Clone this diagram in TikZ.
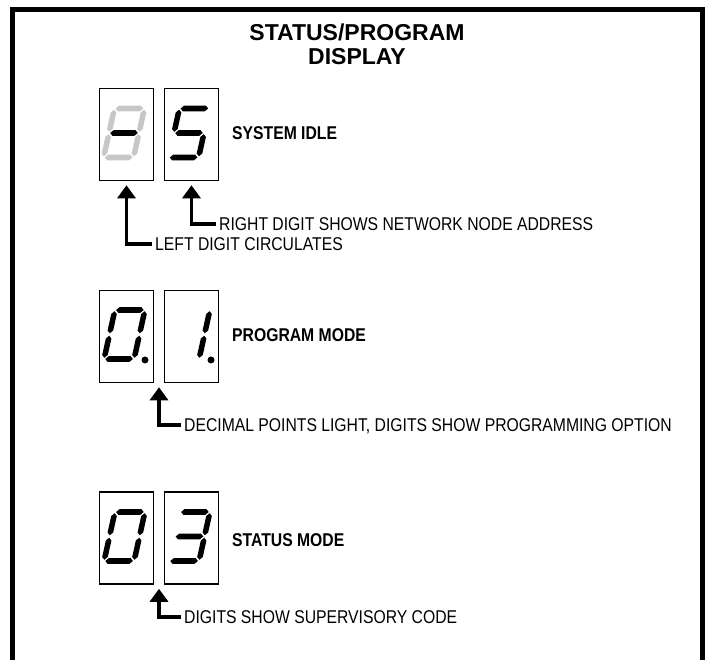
\documentclass[tikz,border=0pt]{standalone}
\usepackage{fontspec}
\setmainfont{Liberation Sans}[FakeStretch=0.85]
\newfontfamily\titlefont{Liberation Sans}
\usetikzlibrary{arrows.meta,calc}

% segment half thickness and gap
\newcommand{\sthk}{2.8}
\newcommand{\sgap}{1.2}
% horizontal segment: x1, x2, y
\newcommand{\hseg}[3]{\fill (#1+\sgap,#3) -- (#1+\sgap+\sthk,#3-\sthk) -- (#2-\sgap-\sthk,#3-\sthk) -- (#2-\sgap,#3) -- (#2-\sgap-\sthk,#3+\sthk) -- (#1+\sgap+\sthk,#3+\sthk) -- cycle;}
% vertical segment: x, y1, y2
\newcommand{\vseg}[3]{\fill (#1,#2+\sgap) -- (#1+\sthk,#2+\sgap+\sthk) -- (#1+\sthk,#3-\sgap-\sthk) -- (#1,#3-\sgap) -- (#1-\sthk,#3-\sgap-\sthk) -- (#1-\sthk,#2+\sgap+\sthk) -- cycle;}
\newcommand{\segA}{\hseg{-15}{15}{-24.5}}
\newcommand{\segB}{\vseg{15}{-24.5}{0}}
\newcommand{\segC}{\vseg{15}{0}{24.5}}
\newcommand{\segD}{\hseg{-15}{15}{24.5}}
\newcommand{\segE}{\vseg{-15}{0}{24.5}}
\newcommand{\segF}{\vseg{-15}{-24.5}{0}}
\newcommand{\segG}{\hseg{-15}{15}{0}}
% slanted digit: [colour], centre, segments
\newcommand{\digit}[3][black]{%
  \begin{scope}[shift={#2}, xslant=0.22, fill=#1]
    \foreach \s in {#3} {\csname seg\s\endcsname}
  \end{scope}}

\begin{document}
\begin{tikzpicture}[
        x=1pt, y=-1pt,
        dbox/.style = {draw, line width=1.6pt, minimum width=54pt, minimum height=92pt, inner sep=0pt}, % digit window
        pointer/.style = {line width=3.5pt, -{Triangle[width=18pt,length=13pt]}, shorten >=4pt},
        lbl/.style = {font=\fontsize{18.5}{21}\selectfont, anchor=west, inner sep=3pt, text depth=0pt},
        mode/.style = {font=\bfseries\fontsize{18.5}{21}\selectfont, anchor=west, inner sep=0pt, text depth=0pt},
    ]
    \useasboundingbox (0,0) rectangle (705,660);

    % frame
    \draw[line width=5pt] (12.5,660) -- (12.5,9.5) -- (702.5,9.5) -- (702.5,660);

    \node[font=\titlefont\bfseries\fontsize{23}{24}\selectfont, align=center] (title) at (357,44) {STATUS/PROGRAM\\DISPLAY};

    % system idle
    \node[dbox] (idleL) at (126.5,134.5) {};
    \node[dbox] (idleR) at (191.5,134.5) {};
    \digit[black!22]{(124,133)}{A,B,C,D,E,F}
    \digit{(124,133)}{G}
    \digit{(189,133)}{A,F,G,C,D}
    \node[mode] (idle) at (232,133) {SYSTEM IDLE};
    \node[lbl] (idleRtxt) at (216,224) {RIGHT DIGIT SHOWS NETWORK NODE ADDRESS};
    \node[lbl] (idleLtxt) at (152,244) {LEFT DIGIT CIRCULATES};
    \draw[pointer] (idleRtxt.west) -| (idleR.south);
    \draw[pointer] (idleLtxt.west) -| (idleL.south);

    % program mode
    \node[dbox] (progL) at (126.5,336.5) {};
    \node[dbox] (progR) at (191.5,336.5) {};
    \digit{(124.5,334.5)}{A,B,C,D,E,F}
    \digit{(189.5,334.5)}{B,C}
    \fill (145,360) circle (3.5);
    \fill (211,360) circle (3.5);
    \node[mode] (prog) at (232,335) {PROGRAM MODE};
    \node[lbl] (progtxt) at (181,425) {DECIMAL POINTS LIGHT, DIGITS SHOW PROGRAMMING OPTION};
    \coordinate (progmid) at ($(progL.south east)!0.5!(progR.south west)$);
    \draw[pointer] (progtxt.west) -| (progmid);

    % status mode
    \node[dbox] (statL) at (126.5,538) {};
    \node[dbox] (statR) at (191.5,538) {};
    \digit{(124.5,536.5)}{A,B,C,D,E,F}
    \digit{(189.5,536.5)}{A,B,G,C,D}
    \node[mode] (stat) at (232,540) {STATUS MODE};
    \node[lbl] (stattxt) at (181,617) {DIGITS SHOW SUPERVISORY CODE};
    \coordinate (statmid) at ($(statL.south east)!0.5!(statR.south west)$);
    \draw[pointer] (stattxt.west) -| (statmid);

\end{tikzpicture}
\end{document}
